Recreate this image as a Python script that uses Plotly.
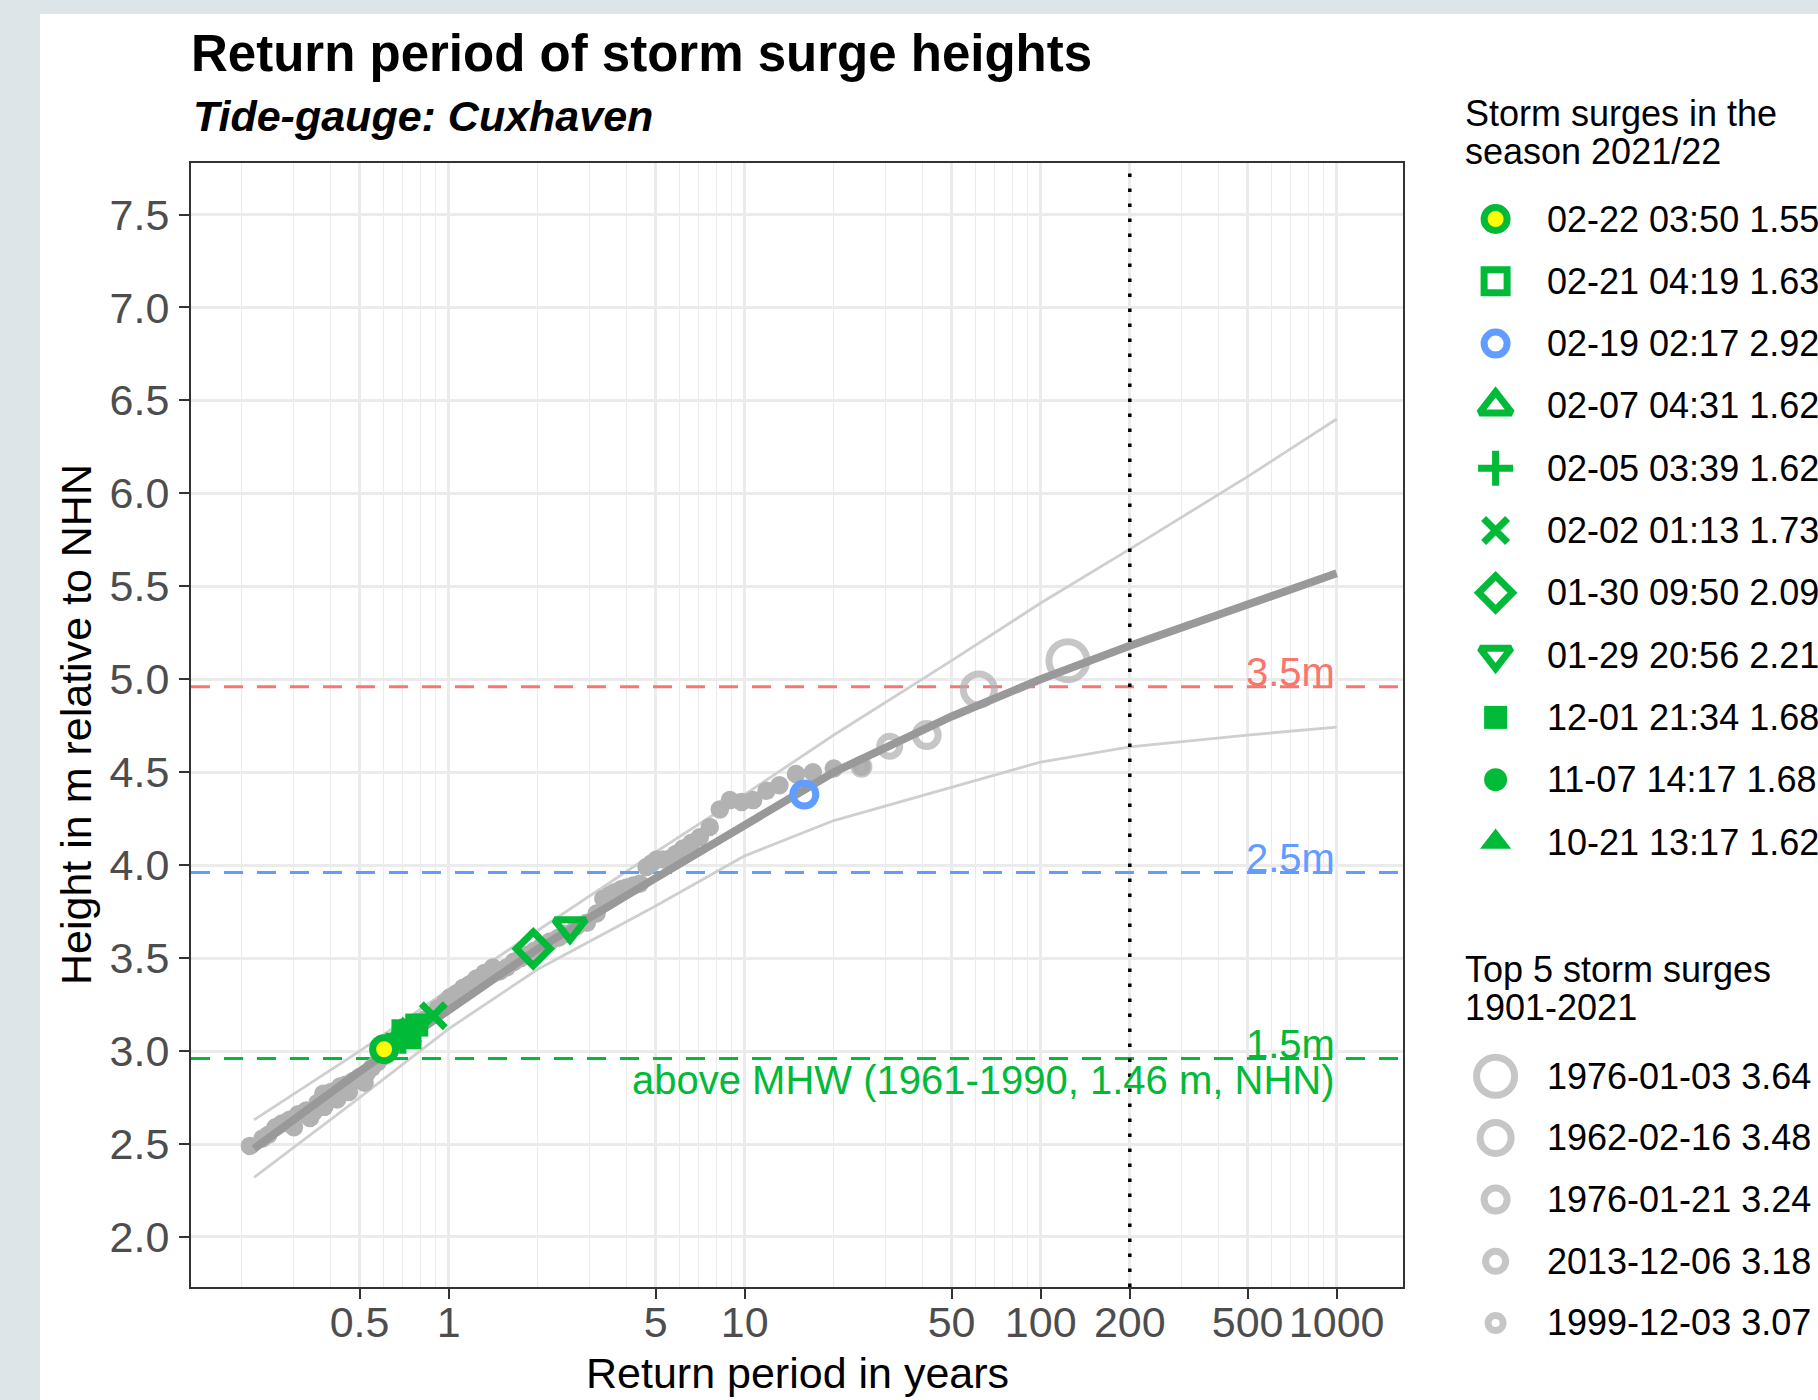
import plotly.graph_objects as go

# ---------------- data ----------------
# observed storm surges: empirical return period (years) and peak height (m NHN)
obs_return_period = [0.213, 0.235, 0.246, 0.26, 0.273, 0.29, 0.30, 0.31, 0.33, 0.34,
                     0.349, 0.36, 0.377, 0.38, 0.40, 0.42, 0.42, 0.43, 0.45, 0.46,
                     0.477, 0.50, 0.52, 0.528, 0.55, 0.575, 0.60, 0.63, 0.66, 0.69,
                     0.72, 0.75, 0.79, 0.83, 0.87, 0.92, 0.97, 1.01, 1.06, 1.12,
                     1.18, 1.24, 1.32, 1.41, 1.49, 1.57, 1.66, 1.75, 1.85, 1.95,
                     2.05, 2.2, 2.35, 2.5, 2.7, 2.93, 3.16, 3.33, 3.50, 3.64,
                     3.82, 3.99, 4.2, 4.42, 4.66, 4.85, 5.04, 5.3, 5.58, 5.85,
                     6.19, 6.61, 7.05, 7.62, 8.24, 8.91, 9.76, 10.68, 11.85, 13.1,
                     14.9, 17.0, 20.0, 24.8]
obs_height = [2.49, 2.53, 2.55, 2.59, 2.61, 2.63, 2.59, 2.66, 2.68, 2.64,
              2.67, 2.72, 2.77, 2.70, 2.78, 2.79, 2.74, 2.81, 2.82, 2.78,
              2.84, 2.86, 2.83, 2.88, 2.91, 2.94, 2.97, 3.00, 3.03, 3.06,
              3.09, 3.11, 3.14, 3.17, 3.19, 3.23, 3.26, 3.29, 3.31, 3.34,
              3.36, 3.39, 3.42, 3.45, 3.43, 3.45, 3.48, 3.50, 3.52, 3.54,
              3.56, 3.59, 3.61, 3.63, 3.67, 3.69, 3.74, 3.82, 3.84, 3.855,
              3.87, 3.88, 3.89, 3.90, 3.99, 4.01, 4.03, 4.03, 4.035, 4.06,
              4.09, 4.12, 4.15, 4.205, 4.30, 4.35, 4.34, 4.35, 4.40, 4.43,
              4.49, 4.50, 4.52, 4.53]

# fitted return-level curve with its confidence limits
fit_return_period = [0.22, 0.5, 1, 2, 5, 10, 20, 50, 100, 200, 500, 1000]
fit_height = [2.475, 2.89, 3.22, 3.55, 3.93, 4.22, 4.50, 4.80, 5.00, 5.18, 5.40, 5.57]
upper_height = [2.63, 3.00, 3.33, 3.65, 4.07, 4.38, 4.70, 5.10, 5.41, 5.70, 6.09, 6.40]
lower_height = [2.32, 2.75, 3.12, 3.44, 3.78, 4.05, 4.24, 4.42, 4.555, 4.636, 4.70, 4.743]

# top 5 storm surges 1901-2021
top5_labels = ["1976-01-03 3.64", "1962-02-16 3.48", "1976-01-21 3.24",
               "2013-12-06 3.18", "1999-12-03 3.07"]
top5_return_period = [123.6, 61.8, 41.2, 30.9, 24.8]
top5_height = [5.10, 4.945, 4.70, 4.64, 4.53]

# storm surges in the season 2021/22
season_labels = ["02-22 03:50 1.55", "02-21 04:19 1.63", "02-19 02:17 2.92",
                 "02-07 04:31 1.62", "02-05 03:39 1.62", "02-02 01:13 1.73",
                 "01-30 09:50 2.09", "01-29 20:56 2.21", "12-01 21:34 1.68",
                 "11-07 14:17 1.68", "10-21 13:17 1.62"]
season_return_period = [0.605, 0.72, 15.9, 0.70, 0.70, 0.887, 1.93, 2.57, 0.78, 0.78, 0.70]
season_height = [3.01, 3.09, 4.38, 3.08, 3.08, 3.19, 3.55, 3.67, 3.14, 3.14, 3.08]

# storm surge classes (m above MHW) drawn as heights in m NHN
threshold_labels = ["3.5m", "2.5m", "1.5m"]
threshold_height = [4.96, 3.96, 2.96]
mhw_label = "above MHW (1961-1990, 1.46 m, NHN)"
design_return_period = 200

x_tick_vals = [0.5, 1, 5, 10, 50, 100, 200, 500, 1000]
x_tick_text = ["0.5", "1", "5", "10", "50", "100", "200", "500", "1000"]
x_minor_vals = [0.2, 0.3, 0.4, 0.6, 0.7, 0.8, 0.9, 2, 3, 4, 6, 7, 8, 9,
                20, 30, 40, 60, 70, 80, 90, 300, 400, 600, 700, 800, 900]
y_tick_vals = [2.0, 2.5, 3.0, 3.5, 4.0, 4.5, 5.0, 5.5, 6.0, 6.5, 7.0, 7.5]

# ---------------- styles / layout ----------------
FW, FH = 1818, 1400
FONT = "Liberation Sans, Arial, Helvetica, sans-serif"
GREEN, BLUE, RED = "#00BA38", "#619CFF", "#F8766D"
PT_GREY, RING_GREY, FIT_GREY, CI_GREY = "#B2B2B2", "#AEAEAE", "#999999", "#CFCFCF"
threshold_colors = [RED, BLUE, GREEN]

SW = 7  # stroke of open symbols
season_style = [
    dict(symbol="circle", color="yellow", lc=GREEN, lw=SW, size=23),
    dict(symbol="square-open", color=GREEN, lc=GREEN, lw=SW, size=23),
    dict(symbol="circle-open", color=BLUE, lc=BLUE, lw=SW, size=23),
    dict(symbol="triangle-up-open", color=GREEN, lc=GREEN, lw=SW, size=28),
    dict(symbol="cross-thin-open", color=GREEN, lc=GREEN, lw=SW, size=25),
    dict(symbol="x-thin-open", color=GREEN, lc=GREEN, lw=SW, size=24),
    dict(symbol="diamond-open", color=GREEN, lc=GREEN, lw=SW, size=26),
    dict(symbol="triangle-down-open", color=GREEN, lc=GREEN, lw=SW, size=27),
    dict(symbol="square", color=GREEN, lc=GREEN, lw=0, size=23),
    dict(symbol="circle", color=GREEN, lc=GREEN, lw=0, size=23),
    dict(symbol="triangle-up", color=GREEN, lc=GREEN, lw=0, size=27),
]
top5_sizes = [38, 31, 23, 20, 15]
RING_W = 7

PANEL_L, PANEL_R, PANEL_T, PANEL_B = 191, 1403, 163, 1287
XR = [-0.8706, 3.224]          # log10 range of x axis
YR = [1.731, 7.777]
PAGE_TOP = 14                  # grey page strip above the white card


def px(p):
    return p / FW


def py(p):
    return 1 - p / FH


fig = go.Figure()
x_ends = [10 ** XR[0], 10 ** XR[1]]

# confidence limits
for hh in (upper_height, lower_height):
    fig.add_trace(go.Scatter(x=fit_return_period, y=hh, mode="lines",
                             line=dict(color=CI_GREY, width=2.8),
                             showlegend=False, hoverinfo="skip"))

# class lines
for lab, hgt, col in zip(threshold_labels, threshold_height, threshold_colors):
    fig.add_trace(go.Scatter(x=x_ends, y=[hgt, hgt], mode="lines",
                             line=dict(color=col, width=3, dash="19px,14px"),
                             showlegend=False, hoverinfo="skip"))

# observed surges
fig.add_trace(go.Scatter(x=obs_return_period, y=obs_height, mode="markers",
                         marker=dict(color=PT_GREY, size=18.5, line=dict(width=0)),
                         showlegend=False, hoverinfo="skip"))

# top 5 rings
fig.add_trace(go.Scatter(x=top5_return_period, y=top5_height, mode="markers",
                         marker=dict(symbol="circle-open", color=RING_GREY, size=top5_sizes,
                                     line=dict(width=RING_W, color=RING_GREY)),
                         showlegend=False, hoverinfo="skip"))

# fitted curve
fig.add_trace(go.Scatter(x=fit_return_period, y=fit_height, mode="lines",
                         line=dict(color=FIT_GREY, width=8),
                         showlegend=False, hoverinfo="skip"))

# 200-year line
fig.add_trace(go.Scatter(x=[design_return_period, design_return_period], y=YR, mode="lines",
                         line=dict(color="black", width=3.5, dash="3.5px,11.5px"),
                         showlegend=False, hoverinfo="skip"))

# season markers (oldest first so the newest sits on top)
for i in reversed(range(len(season_labels))):
    st = season_style[i]
    fig.add_trace(go.Scatter(x=[season_return_period[i]], y=[season_height[i]], mode="markers",
                             marker=dict(symbol=st["symbol"], color=st["color"], size=st["size"],
                                         line=dict(color=st["lc"], width=st["lw"])),
                             showlegend=False, hoverinfo="skip"))

# ---------------- custom legends on a hidden axis pair ----------------
LEG_ROW0, LEG_STEP = 219, 62.3
y2_range = [(FH - LEG_ROW0) / LEG_STEP, (PAGE_TOP - LEG_ROW0) / LEG_STEP]
season_rows = list(range(len(season_labels)))
top5_rows = [13.76 + 0.99 * k for k in range(len(top5_labels))]
KEY_X, TEXT_X = 1495.6, 1545

for i, lab in enumerate(season_labels):
    st = season_style[i]
    fig.add_trace(go.Scatter(x=[KEY_X], y=[season_rows[i]], xaxis="x2", yaxis="y2", mode="markers",
                             marker=dict(symbol=st["symbol"], color=st["color"], size=st["size"],
                                         line=dict(color=st["lc"], width=st["lw"])),
                             showlegend=False, hoverinfo="skip", cliponaxis=False))
fig.add_trace(go.Scatter(x=[KEY_X] * len(top5_rows), y=top5_rows, xaxis="x2", yaxis="y2",
                         mode="markers",
                         marker=dict(symbol="circle-open", color=RING_GREY, size=top5_sizes,
                                     line=dict(width=RING_W, color=RING_GREY)),
                         showlegend=False, hoverinfo="skip", cliponaxis=False))

annotations = []
for lab, r in zip(season_labels + top5_labels, season_rows + top5_rows):
    annotations.append(dict(x=TEXT_X, y=r, xref="x2", yref="y2", text=lab, showarrow=False,
                            xanchor="left", yanchor="middle",
                            font=dict(family=FONT, size=36, color="black")))
for txt, yc in [("Storm surges in the", 113.5), ("season 2021/22", 151.5),
                ("Top 5 storm surges", 969), ("1901-2021", 1007.5)]:
    annotations.append(dict(x=px(1463), y=py(yc), xref="paper", yref="paper", text=txt,
                            showarrow=False, xanchor="left", yanchor="middle",
                            font=dict(family=FONT, size=36, color="black")))

# class labels
for lab, hgt, col in zip(threshold_labels, threshold_height, threshold_colors):
    annotations.append(dict(x=3, y=hgt, xref="x", yref="y", text=lab, showarrow=False,
                            xanchor="right", yanchor="middle", yshift=15,
                            font=dict(family=FONT, size=40, color=col)))
annotations.append(dict(x=3, y=threshold_height[2], xref="x", yref="y", text=mhw_label,
                        showarrow=False, xanchor="right", yanchor="middle", yshift=-21,
                        font=dict(family=FONT, size=40, color=GREEN)))

# titles
annotations.append(dict(x=px(189), y=py(53.5), xref="paper", yref="paper",
                        text="<b>Return period of storm surge heights</b>", showarrow=False,
                        xanchor="left", yanchor="middle",
                        font=dict(family=FONT, size=51, color="black")))
annotations.append(dict(x=px(191), y=py(116), xref="paper", yref="paper",
                        text="<b><i>Tide-gauge: Cuxhaven</i></b>", showarrow=False,
                        xanchor="left", yanchor="middle",
                        font=dict(family=FONT, size=43, color="black")))
annotations.append(dict(x=px((PANEL_L + PANEL_R) / 2), y=py(1373), xref="paper", yref="paper",
                        text="Return period in years", showarrow=False,
                        xanchor="center", yanchor="middle",
                        font=dict(family=FONT, size=43, color="black")))
annotations.append(dict(x=px(76), y=py((PANEL_T + PANEL_B) / 2), xref="paper", yref="paper",
                        text="Height in m relative to NHN", showarrow=False, textangle=-90,
                        xanchor="center", yanchor="middle",
                        font=dict(family=FONT, size=43, color="black")))

shapes = [dict(type="rect", xref="paper", yref="paper", x0=px(40), x1=1, y0=0, y1=py(PAGE_TOP),
               fillcolor="white", line=dict(width=0), layer="below")]

axis_common = dict(showline=True, linecolor="#333333", linewidth=2, mirror=True,
                   ticks="outside", ticklen=10, tickwidth=2, tickcolor="#333333",
                   tickfont=dict(family=FONT, size=43, color="#4D4D4D"),
                   gridcolor="#EBEBEB", zeroline=False, fixedrange=True)

fig.update_layout(
    width=FW, height=FH,
    margin=dict(l=0, r=0, t=0, b=0, autoexpand=False),
    paper_bgcolor="#DEE5E9", plot_bgcolor="white",
    showlegend=False,
    xaxis=dict(type="log", range=XR, domain=[px(PANEL_L), px(PANEL_R)], anchor="y",
               tickmode="array", tickvals=x_tick_vals, ticktext=x_tick_text,
               gridwidth=2.6, ticklabelstandoff=-14,
               minor=dict(tickmode="array", tickvals=x_minor_vals, showgrid=True,
                          gridcolor="#EBEBEB", gridwidth=1.3, ticks=""),
               **axis_common),
    yaxis=dict(range=YR, domain=[py(PANEL_B), py(PANEL_T)], anchor="x",
               tickmode="array", tickvals=y_tick_vals, tickformat=".1f",
               gridwidth=2.6, ticklabelstandoff=1, **axis_common),
    xaxis2=dict(domain=[px(1440), 1], range=[1440, FW], anchor="y2", visible=False,
                fixedrange=True),
    yaxis2=dict(domain=[0, py(PAGE_TOP)], range=y2_range, anchor="x2", visible=False,
                fixedrange=True),
    annotations=annotations,
    shapes=shapes,
)

fig.write_html("out.html", config={"displayModeBar": False},
               post_script="document.body.style.margin='0';document.body.style.overflow='hidden';")
